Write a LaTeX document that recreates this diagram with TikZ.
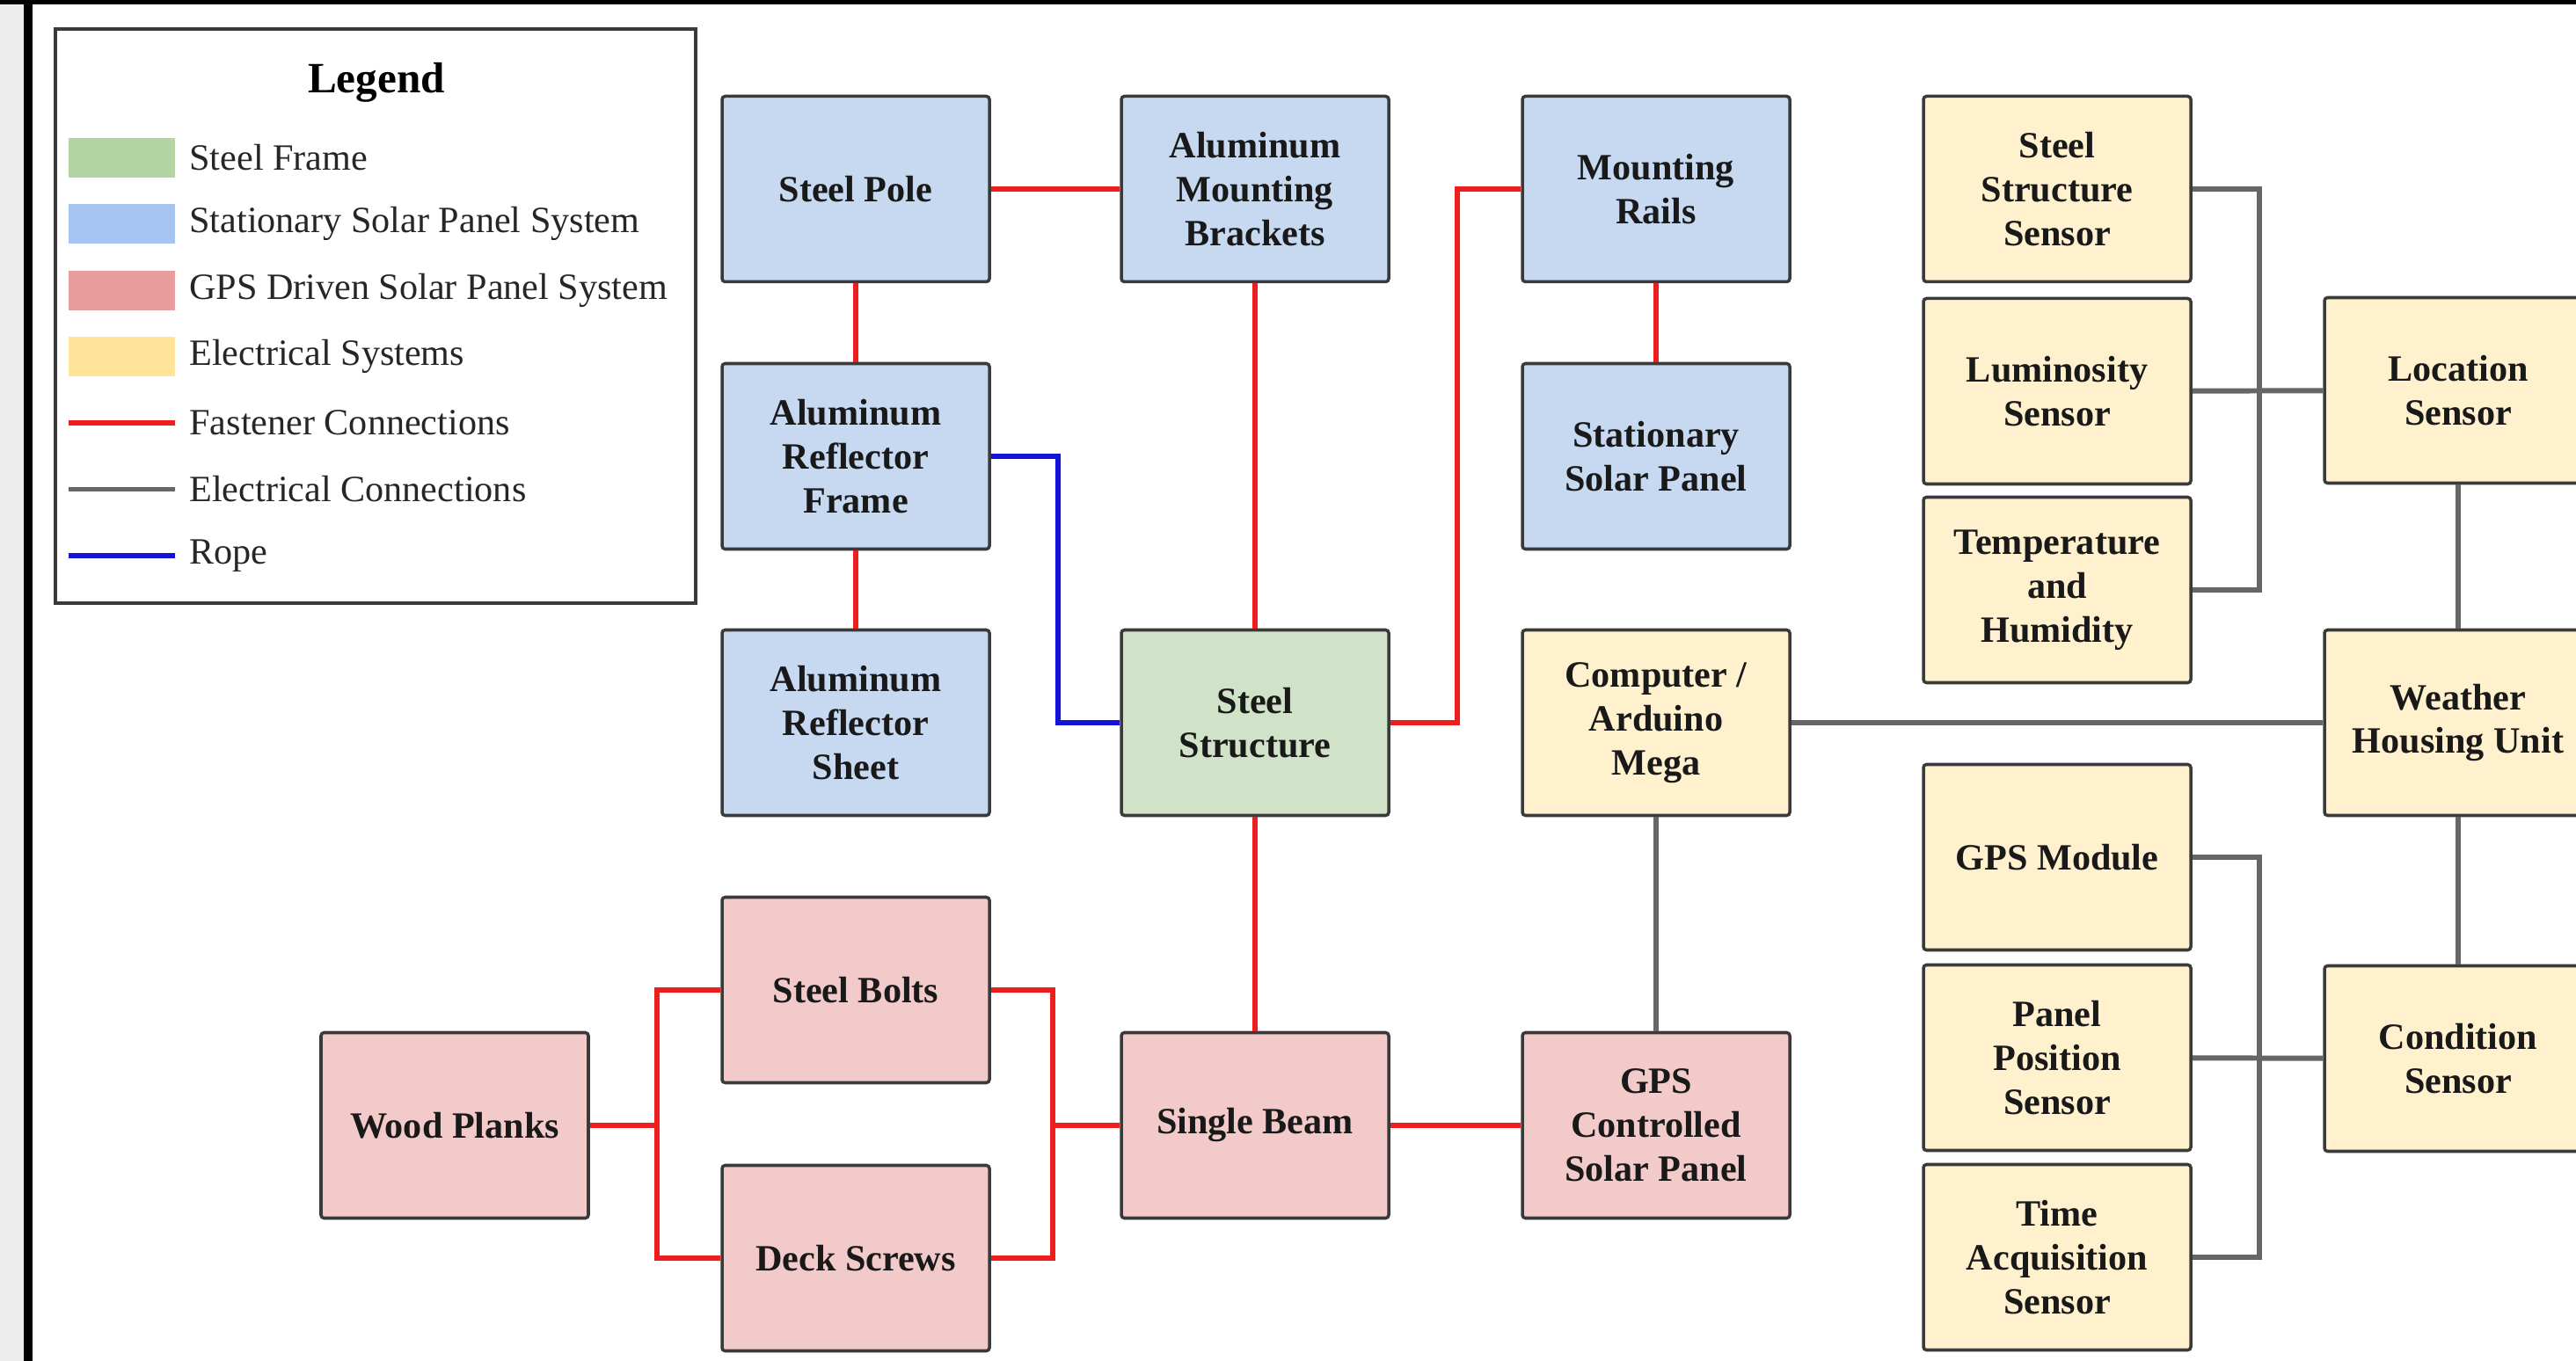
\documentclass[tikz,border=0pt]{standalone}
\usepackage{fontspec}
\setmainfont{Liberation Serif}
\definecolor{framegreen}{HTML}{D0E3C8}
\definecolor{statblue}{HTML}{C7D8F1}
\definecolor{gpspink}{HTML}{F2CACA}
\definecolor{elecyellow}{HTML}{FFF1CE}
\definecolor{keygreen}{HTML}{B2D5A3}
\definecolor{keyblue}{HTML}{A6C3F2}
\definecolor{keypink}{HTML}{E89C9C}
\definecolor{keyyellow}{HTML}{FFE49A}
\definecolor{boxline}{HTML}{3A3A3A}
\definecolor{fastred}{HTML}{EE1E1E}
\definecolor{wiregray}{HTML}{666666}
\definecolor{ropeblue}{HTML}{1414D8}
\begin{document}
\begin{tikzpicture}[
      part/.style = {shape=rectangle, rounded corners=1pt,
        draw=boxline, line width=1pt, align=center,
        minimum width=3.04cm, minimum height=2.11cm, inner sep=2pt,
        font=\fontsize{12}{14.2}\selectfont\bfseries, text=black!90},
      frame/.style = {part, fill=framegreen},
      stat/.style = {part, fill=statblue},
      gps/.style = {part, fill=gpspink},
      elec/.style = {part, fill=elecyellow},
      fastener/.style = {draw=fastred, line width=1.7pt},
      wire/.style = {draw=wiregray, line width=1.7pt},
      rope/.style = {draw=ropeblue, line width=1.7pt},
      keytext/.style = {anchor=west, font=\fontsize{12}{14}\selectfont, text=black!85}]
    \useasboundingbox (0,0) rectangle (29.29,-15.48);
    \clip (0,0) rectangle (29.29,-15.48);
    % page frame
    \fill[white] (0,0) rectangle (29.29,-15.48);
    \fill[black!7] (0,0) rectangle (0.27,-15.48);
    \fill[black] (0.27,0) rectangle (0.37,-15.48);
    \fill[black] (0,0) rectangle (29.29,-0.05);

    % legend
    \node[draw=boxline, line width=1pt, minimum width=7.28cm,
      minimum height=6.53cm] (legend) at (4.27,-3.595) {};
    \node[font=\fontsize{14}{16}\selectfont\bfseries] (legendtitle) at (4.28,-0.94) {Legend};
    \foreach \col/\txt [count=\i] in {keygreen/Steel Frame,
        keyblue/Stationary Solar Panel System,
        keypink/GPS Driven Solar Panel System,
        keyyellow/Electrical Systems} {
      \fill[\col] (0.78,{-1.57-(\i-1)*0.755}) rectangle (1.99,{-2.02-(\i-1)*0.755});
      \node[keytext] (key\i) at (2.03,{-1.79-(\i-1)*0.755}) {\txt};
    }
    \foreach \sty/\txt [count=\i from 5] in {fastener/Fastener Connections,
        wire/Electrical Connections, rope/Rope} {
      \draw[\sty] (0.78,{-1.79-(\i-1)*0.755}) -- (1.99,{-1.79-(\i-1)*0.755});
      \node[keytext] (key\i) at (2.03,{-1.79-(\i-1)*0.755}) {\txt};
    }

    % mechanical parts
    \node[stat] (pole) at (9.73,-2.15) {Steel Pole};
    \node[stat] (brackets) at (14.27,-2.15) {Aluminum\\Mounting\\Brackets};
    \node[stat] (rails) at (18.83,-2.15) {Mounting\\Rails};
    \node[stat] (reframe) at (9.73,-5.19) {Aluminum\\Reflector\\Frame};
    \node[stat] (statpanel) at (18.83,-5.19) {Stationary\\Solar Panel};
    \node[stat] (resheet) at (9.73,-8.22) {Aluminum\\Reflector\\Sheet};
    \node[frame] (structure) at (14.27,-8.22) {Steel\\Structure};
    \node[elec] (computer) at (18.83,-8.22) {Computer /\\Arduino\\Mega};
    \node[gps] (bolts) at (9.73,-11.26) {Steel Bolts};
    \node[gps] (screws) at (9.73,-14.31) {Deck Screws};
    \node[gps] (planks) at (5.17,-12.80) {Wood Planks};
    \node[gps] (beam) at (14.27,-12.80) {Single Beam};
    \node[gps] (gpspanel) at (18.83,-12.80) {GPS\\Controlled\\Solar Panel};

    % electrical parts
    \node[elec] (sssensor) at (23.39,-2.15) {Steel\\Structure\\Sensor};
    \node[elec] (lumsensor) at (23.39,-4.45) {Luminosity\\Sensor};
    \node[elec] (thsensor) at (23.39,-6.71) {Temperature\\and\\Humidity};
    \node[elec] (gpsmod) at (23.39,-9.75) {GPS Module};
    \node[elec] (possensor) at (23.39,-12.03) {Panel\\Position\\Sensor};
    \node[elec] (timesensor) at (23.39,-14.30) {Time\\Acquisition\\Sensor};
    \node[elec] (locsensor) at (27.95,-4.44) {Location\\Sensor};
    \node[elec] (weather) at (27.95,-8.22) {Weather\\Housing Unit};
    \node[elec] (condsensor) at (27.95,-12.04) {Condition\\Sensor};

    % fasteners
    \draw[fastener] (pole) -- (brackets);
    \draw[fastener] (pole) -- (reframe);
    \draw[fastener] (reframe) -- (resheet);
    \draw[fastener] (brackets) -- (structure);
    \draw[fastener] (structure.east) -- ++(0.76,0) |- (rails.west);
    \draw[fastener] (rails) -- (statpanel);
    \draw[fastener] (structure) -- (beam);
    \draw[fastener] (beam) -- (gpspanel);
    \draw[fastener] (planks.east) -- ++(0.76,0) coordinate (leftbus);
    \draw[fastener] (bolts.west) -| (leftbus) |- (screws.west);
    \draw[fastener] (beam.west) -- ++(-0.76,0) coordinate (rightbus);
    \draw[fastener] (bolts.east) -| (rightbus) |- (screws.east);

    % rope
    \draw[rope] (reframe.east) -- ++(0.76,0) |- (structure.west);

    % wiring
    \draw[wire] (computer) -- (weather);
    \draw[wire] (computer) -- (gpspanel);
    \draw[wire] (sssensor.east) -- ++(0.76,0) |- (thsensor.east);
    \draw[wire] (lumsensor) -- (locsensor);
    \draw[wire] (locsensor) -- (weather);
    \draw[wire] (weather) -- (condsensor);
    \draw[wire] (gpsmod.east) -- ++(0.76,0) |- (timesensor.east);
    \draw[wire] (possensor) -- (condsensor);
\end{tikzpicture}
\end{document}
